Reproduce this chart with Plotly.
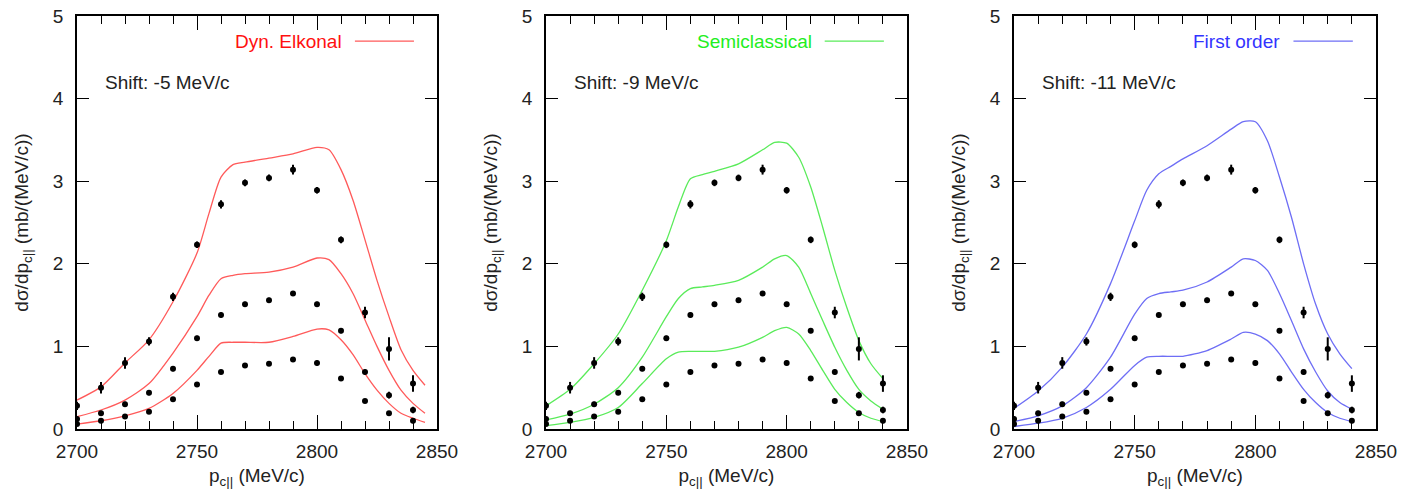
import plotly.graph_objects as go

# ---------------- data ----------------
p_exp = [2700, 2710, 2720, 2730, 2740, 2750, 2760, 2770, 2780, 2790, 2800, 2810, 2820, 2830, 2840]
exp_high = [0.28, 0.50, 0.80, 1.06, 1.60, 2.23, 2.72, 2.98, 3.04, 3.14, 2.89, 2.29, 1.41, 0.97, 0.55]
err_high = [0.05, 0.07, 0.07, 0.05, 0.05, 0.04, 0.05, 0.04, 0.04, 0.06, 0.04, 0.04, 0.07, 0.14, 0.10]
exp_mid = [0.12, 0.19, 0.30, 0.44, 0.73, 1.10, 1.38, 1.51, 1.56, 1.64, 1.51, 1.19, 0.69, 0.41, 0.23]
err_mid = [0.03, 0.03, 0.03, 0.03, 0.03, 0.03, 0.03, 0.03, 0.03, 0.03, 0.03, 0.03, 0.03, 0.04, 0.04]
exp_low = [0.06, 0.10, 0.15, 0.21, 0.36, 0.54, 0.69, 0.77, 0.79, 0.84, 0.80, 0.61, 0.34, 0.19, 0.10]
err_low = [0.02, 0.02, 0.02, 0.02, 0.02, 0.02, 0.02, 0.03, 0.02, 0.02, 0.03, 0.02, 0.02, 0.02, 0.03]

p_eik = [2700, 2710, 2720, 2730, 2740, 2750, 2755, 2760, 2765, 2770, 2780, 2790, 2800, 2805,
         2810, 2815, 2820, 2825, 2830, 2835, 2840, 2845]
eik_high = [0.35, 0.51, 0.80, 1.08, 1.54, 2.13, 2.61, 3.05, 3.20, 3.23, 3.28, 3.33, 3.41, 3.38,
            3.14, 2.77, 2.29, 1.80, 1.36, 0.96, 0.71, 0.53]
eik_mid = [0.15, 0.23, 0.35, 0.55, 0.92, 1.36, 1.62, 1.82, 1.86, 1.88, 1.90, 1.96, 2.07, 2.05,
           1.88, 1.64, 1.32, 1.00, 0.71, 0.47, 0.31, 0.19]
eik_low = [0.06, 0.10, 0.16, 0.25, 0.43, 0.71, 0.88, 1.04, 1.05, 1.05, 1.05, 1.12, 1.21, 1.20,
           1.08, 0.90, 0.67, 0.47, 0.31, 0.19, 0.13, 0.08]

p_th = [2700, 2710, 2720, 2730, 2740, 2750, 2755, 2760, 2765, 2770, 2780, 2790, 2795, 2800,
        2805, 2810, 2815, 2820, 2825, 2830, 2835, 2840]
semi_high = [0.28, 0.48, 0.79, 1.15, 1.68, 2.28, 2.69, 3.03, 3.08, 3.12, 3.21, 3.38, 3.47, 3.46,
             3.29, 2.93, 2.44, 1.92, 1.47, 1.07, 0.79, 0.61]
semi_mid = [0.11, 0.18, 0.30, 0.50, 0.87, 1.36, 1.58, 1.70, 1.72, 1.74, 1.80, 1.96, 2.06, 2.10,
            1.96, 1.64, 1.31, 0.99, 0.71, 0.48, 0.34, 0.24]
semi_low = [0.04, 0.08, 0.14, 0.26, 0.55, 0.85, 0.93, 0.94, 0.94, 0.94, 0.99, 1.11, 1.19, 1.23,
            1.15, 0.95, 0.71, 0.48, 0.32, 0.20, 0.13, 0.09]

first_high = [0.25, 0.46, 0.75, 1.15, 1.76, 2.52, 2.89, 3.09, 3.18, 3.27, 3.43, 3.63, 3.72, 3.72,
              3.49, 3.05, 2.56, 2.00, 1.51, 1.15, 0.91, 0.73]
first_mid = [0.09, 0.16, 0.28, 0.50, 0.87, 1.39, 1.58, 1.64, 1.66, 1.68, 1.78, 1.96, 2.06, 2.04,
             1.92, 1.64, 1.31, 0.97, 0.69, 0.46, 0.32, 0.24]
first_low = [0.03, 0.07, 0.13, 0.26, 0.48, 0.77, 0.87, 0.88, 0.88, 0.88, 0.95, 1.09, 1.17, 1.15,
             1.07, 0.91, 0.69, 0.48, 0.32, 0.20, 0.13, 0.09]

model_names = ["Dyn. Elkonal", "Semiclassical", "First order"]
shift_labels = ["Shift: -5 MeV/c", "Shift: -9 MeV/c", "Shift: -11 MeV/c"]
x_ticks = [2700, 2750, 2800, 2850]
y_ticks = [0, 1, 2, 3, 4, 5]

# ---------------- styling ----------------
FONT = "Liberation Sans, Arial, sans-serif"
FS = 19
TXT = "#222222"
line_colors = ["rgb(255,90,90)", "rgb(90,235,90)", "rgb(110,110,245)"]
text_colors = ["#ff1010", "#22ee22", "#3333ff"]
x_domains = [[77 / 1403, 437 / 1403], [546 / 1403, 907 / 1403], [1014 / 1403, 1376 / 1403]]
y_domain = [65 / 494, 478 / 494]

models = [
    (p_eik, [eik_high, eik_mid, eik_low]),
    (p_th, [semi_high, semi_mid, semi_low]),
    (p_th, [first_high, first_mid, first_low]),
]

fig = go.Figure()

for i in range(3):
    xa = "x" if i == 0 else f"x{i + 1}"
    ya = "y" if i == 0 else f"y{i + 1}"
    px, curves = models[i]
    for c in curves:
        fig.add_trace(go.Scatter(
            x=px, y=c, mode="lines", xaxis=xa, yaxis=ya,
            line=dict(color=line_colors[i], width=1.3, shape="spline", smoothing=0.7),
            showlegend=False, hoverinfo="skip"))
    for ys, es in [(exp_high, err_high), (exp_mid, err_mid), (exp_low, err_low)]:
        fig.add_trace(go.Scatter(
            x=p_exp, y=ys, mode="markers", xaxis=xa, yaxis=ya,
            marker=dict(color="black", size=6, symbol="circle"),
            error_y=dict(type="data", array=es, visible=True, color="black",
                         thickness=2, width=0),
            showlegend=False))

    axis_common = dict(
        showline=True, linecolor="black", linewidth=1.6, mirror="ticks",
        ticks="inside", tickcolor="black", tickwidth=1.3,
        showgrid=False, zeroline=False, automargin=False,
        tickfont=dict(family=FONT, size=FS, color=TXT),
    )
    xkey = "xaxis" if i == 0 else f"xaxis{i + 1}"
    ykey = "yaxis" if i == 0 else f"yaxis{i + 1}"
    fig.update_layout({
        xkey: dict(axis_common, domain=x_domains[i], anchor=ya, range=[2700, 2850],
                   tickvals=x_ticks, ticklen=14, ticklabelstandoff=4,
                   minor=dict(dtick=10, tick0=2700, ticks="inside", ticklen=8,
                              tickcolor="black", tickwidth=1.3),
                   title=dict(text="p<sub>c||</sub> (MeV/c)", standoff=8,
                              font=dict(family=FONT, size=FS, color=TXT))),
        ykey: dict(axis_common, domain=y_domain, anchor=xa, range=[0, 5],
                   tickvals=y_ticks, ticklen=12, ticklabelstandoff=8,
                   title=dict(text="dσ/dp<sub>c||</sub> (mb/(MeV/c))", standoff=19,
                              font=dict(family=FONT, size=FS, color=TXT))),
    })

    xd = f"{xa} domain"
    yd = f"{ya} domain"
    # legend entry: text then line sample
    fig.add_annotation(text=model_names[i], xref=xd, yref=yd, x=0.741, y=0.939,
                       xanchor="right", yanchor="middle", showarrow=False,
                       font=dict(family=FONT, size=FS, color=text_colors[i]))
    fig.add_shape(type="line", xref=xd, yref=yd, x0=0.772, x1=0.936, y0=0.939, y1=0.939,
                  line=dict(color=line_colors[i], width=1.3))
    fig.add_annotation(text=shift_labels[i], xref=xd, yref=yd, x=0.072, y=0.838,
                       xanchor="left", yanchor="middle", showarrow=False,
                       font=dict(family=FONT, size=FS, color=TXT))

fig.update_layout(
    template="none",
    width=1403, height=494, autosize=False,
    margin=dict(l=0, r=0, t=0, b=0),
    paper_bgcolor="white", plot_bgcolor="white",
    font=dict(family=FONT, size=FS, color=TXT),
    showlegend=False,
)

fig.write_html("out.html")
